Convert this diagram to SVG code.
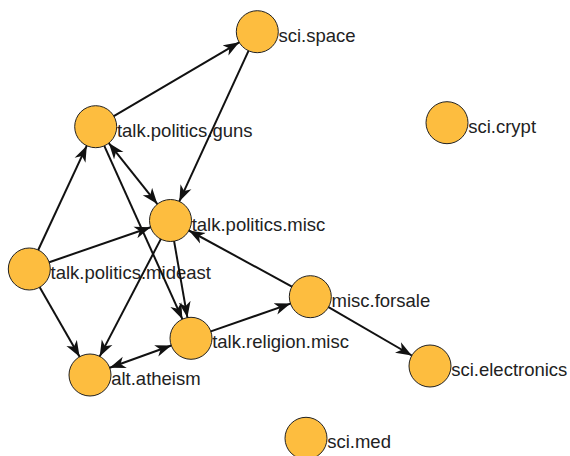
<svg xmlns="http://www.w3.org/2000/svg" width="570" height="456" viewBox="0 0 570 456">
<style>
.node circle{fill:#FDBD3F;stroke:#222;stroke-width:1}
.node text{font-family:"Liberation Sans",Arial,sans-serif;font-size:18.5px;fill:#222}
.edges line{stroke:#111;stroke-width:2;marker-end:url(#arr)}
.edges line.both{marker-start:url(#arr)}
</style>
<defs>
<marker id="arr" markerUnits="userSpaceOnUse" markerWidth="17" markerHeight="13" viewBox="0 0 17 13" refX="16" refY="6.5" orient="auto-start-reverse">
<path d="M0,0.5 L16,6.5 L0,12.5 L4.5,6.5 z" fill="#111"/>
</marker>
</defs>
<rect width="570" height="456" fill="#fff"/>
<g id="sci.space" class="node"><circle cx="257.3" cy="31.7" r="21"/><text x="278.5" y="41.7">sci.space</text></g>
<g id="sci.crypt" class="node"><circle cx="447" cy="122.7" r="21"/><text x="468.2" y="132.7">sci.crypt</text></g>
<g id="talk.politics.guns" class="node"><circle cx="95.7" cy="126.7" r="21"/><text x="116.9" y="136.7">talk.politics.guns</text></g>
<g id="talk.politics.misc" class="node"><circle cx="170.5" cy="220.5" r="21"/><text x="191.7" y="230.5">talk.politics.misc</text></g>
<g id="talk.politics.mideast" class="node"><circle cx="29.3" cy="269" r="21"/><text x="50.5" y="279">talk.politics.mideast</text></g>
<g id="misc.forsale" class="node"><circle cx="310.3" cy="296.7" r="21"/><text x="331.5" y="306.7">misc.forsale</text></g>
<g id="talk.religion.misc" class="node"><circle cx="191" cy="338.3" r="21"/><text x="212.2" y="348.3">talk.religion.misc</text></g>
<g id="alt.atheism" class="node"><circle cx="90" cy="375" r="21"/><text x="111.2" y="385">alt.atheism</text></g>
<g id="sci.electronics" class="node"><circle cx="430" cy="366" r="21"/><text x="451.2" y="376">sci.electronics</text></g>
<g id="sci.med" class="node"><circle cx="306" cy="438.3" r="21"/><text x="327.2" y="448.3">sci.med</text></g>
<g id="connectors" class="edges">
<line x1="113.8" y1="116.1" x2="239.2" y2="42.3"/>
<line x1="248.5" y1="50.8" x2="179.3" y2="201.4"/>
<line class="both" x1="108.8" y1="143.1" x2="157.4" y2="204.1"/>
<line x1="104.3" y1="145.8" x2="182.4" y2="319.2"/>
<line x1="38.2" y1="250.0" x2="86.8" y2="145.7"/>
<line x1="49.2" y1="262.2" x2="150.6" y2="227.3"/>
<line x1="39.7" y1="287.2" x2="79.6" y2="356.8"/>
<line x1="160.8" y1="239.1" x2="99.7" y2="356.4"/>
<line x1="174.1" y1="241.2" x2="187.4" y2="317.6"/>
<line class="both" x1="109.7" y1="367.8" x2="171.3" y2="345.5"/>
<line x1="210.8" y1="331.4" x2="290.5" y2="303.6"/>
<line x1="291.9" y1="286.6" x2="188.9" y2="230.5"/>
<line x1="328.5" y1="307.2" x2="411.8" y2="355.5"/>
</g>
</svg>
